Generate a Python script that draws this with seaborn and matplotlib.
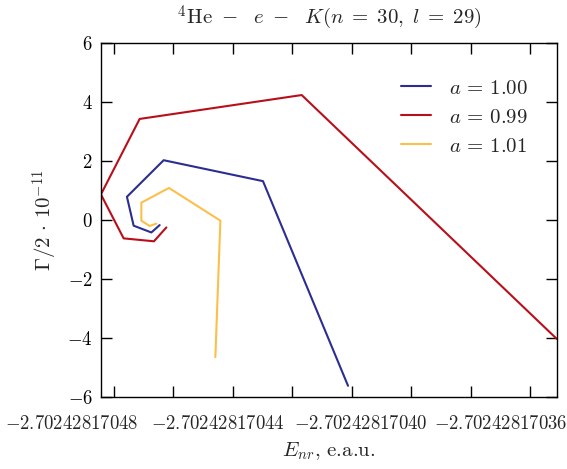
import numpy as np
import matplotlib
matplotlib.use("Agg")
import matplotlib.pyplot as plt
import matplotlib.transforms as mtransforms
import seaborn as sns

# data (E_nr in e.a.u., Gamma/2 in 1e-11)
x_a100 = [-2.70242817046454, -2.70242817046733, -2.70242817047328, -2.70242817047553,
          -2.70242817046319, -2.70242817042982, -2.70242817040124]
y_a100 = [-0.17, -0.42, -0.19, 0.79, 2.03, 1.32, -5.62]

x_a099 = [-2.70242817046229, -2.70242817046645, -2.70242817047664, -2.70242817048427,
          -2.70242817047126, -2.70242817041681, -2.70242817033110]
y_a099 = [-0.25, -0.72, -0.62, 0.87, 3.43, 4.24, -4.03]

x_a101 = [-2.70242817046565, -2.70242817046790, -2.70242817047069, -2.70242817047069,
          -2.70242817046141, -2.70242817044413, -2.70242817044582]
y_a101 = [-0.12, -0.20, -0.02, 0.59, 1.09, -0.02, -4.65]

labels = [r"$a\,=\,1.00$", r"$a\,=\,0.99$", r"$a\,=\,1.01$"]
colors = ["#2b2d91", "#b80f1a", "#fcbf49"]

x_ticks = [-2.70242817048, -2.70242817046, -2.70242817044, -2.70242817042,
           -2.70242817040, -2.70242817038, -2.70242817036, -2.70242817034]
x_labelled = [-2.70242817048, -2.70242817044, -2.70242817040, -2.70242817036]
x_ticklabels = [r"$-2.70242817048$", r"$-2.70242817044$",
                r"$-2.70242817040$", r"$-2.70242817036$"]
y_ticks = [-6, -4, -2, 0, 2, 4, 6]

sns.set_style("ticks")
plt.rcParams["font.family"] = "serif"
plt.rcParams["font.serif"] = ["cmr10", "DejaVu Serif"]
plt.rcParams["mathtext.fontset"] = "cm"
plt.rcParams["axes.formatter.use_mathtext"] = True
plt.rcParams["axes.unicode_minus"] = True

FS = 15
TFS = 13.5

fig = plt.figure(figsize=(5.67, 4.69), dpi=100)
ax = fig.add_axes([0.178, 0.1535, 0.804, 0.7545])

for xs, ys, lab, col in zip([x_a100, x_a099, x_a101], [y_a100, y_a099, y_a101], labels, colors):
    sns.lineplot(x=xs, y=ys, sort=False, estimator=None, color=col, label=lab,
                 linewidth=1.5, ax=ax)

ax.set_xlim(min(x_a099), max(x_a099))
ax.set_ylim(-6, 6)
ax.set_yticks(y_ticks)
ax.set_yticklabels([rf"${v}$" if v >= 0 else rf"$-{abs(v)}$" for v in y_ticks])
ax.set_xticks(x_ticks)
ax.set_xticklabels([])

ax.tick_params(direction="in", top=True, right=True, length=8, width=1,
               labelsize=TFS, colors="black", pad=6)
for sp in ax.spines.values():
    sp.set_linewidth(1)
    sp.set_color("black")

# long x labels, spread apart like in the original so they don't collide
shifts = [-30.2, -10.4, 6.5, 21.6]
base = mtransforms.blended_transform_factory(ax.transData, ax.transAxes)
for xt, txt, dx in zip(x_labelled, x_ticklabels, shifts):
    ax.text(xt, 0, txt, fontsize=TFS, ha="center", va="top",
            transform=base + mtransforms.ScaledTranslation(dx / 72, -13 / 72, fig.dpi_scale_trans))

ax.set_title(r"$^4\mathrm{He}\ -\ \ e\ -\ \ K(n\;=\;30,\ l\;=\;29)$", fontsize=FS, pad=14)
ax.set_xlabel(r"$E_{nr}$, e.a.u.", fontsize=FS, labelpad=25)
ax.set_ylabel(r"$\Gamma/2\,\cdot\,10^{-11}$", fontsize=FS, labelpad=5)

ax.legend(loc="upper right", frameon=False, fontsize=FS, handlelength=1.45,
          handletextpad=0.85, borderaxespad=0.0, labelspacing=0.5,
          bbox_to_anchor=(0.955, 0.922))

fig.savefig("out.png", dpi=100)
